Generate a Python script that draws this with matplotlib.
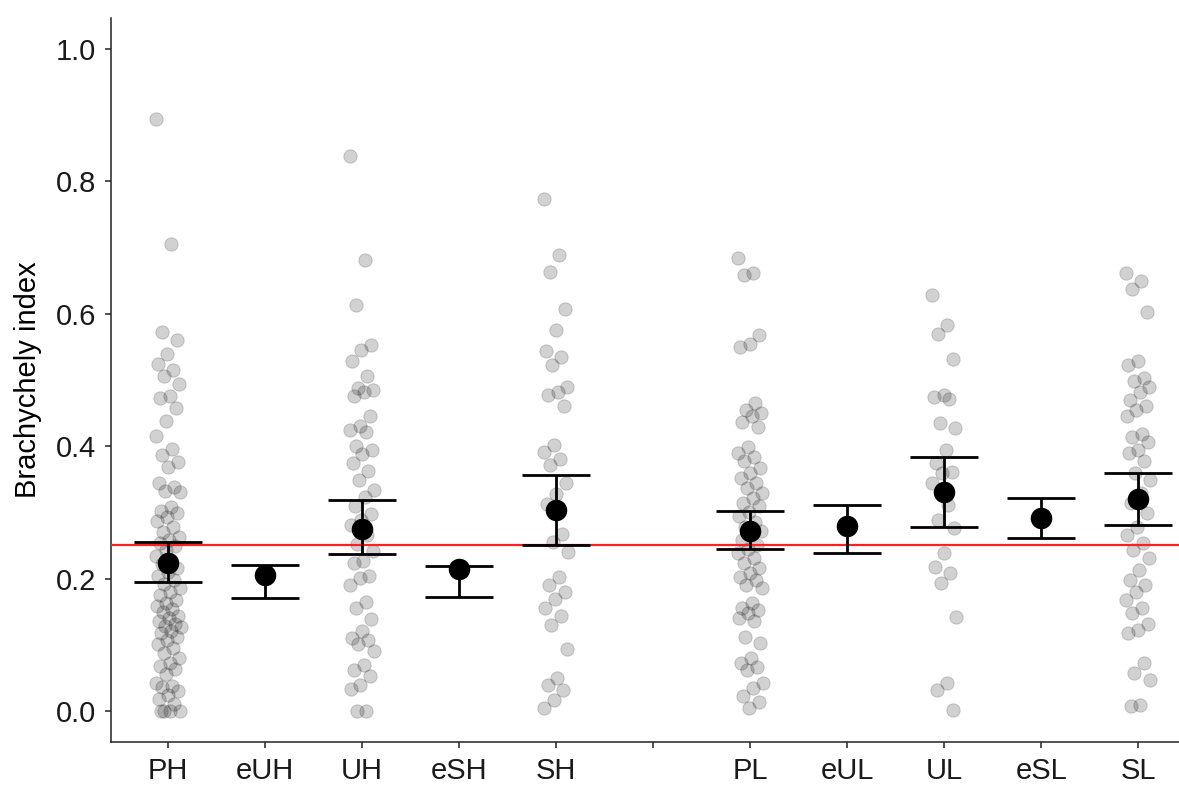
import matplotlib
matplotlib.use('Agg')
import matplotlib.pyplot as plt
import numpy as np

plt.rcParams['font.family'] = ['Liberation Sans', 'DejaVu Sans']

# x axis: ten groups plus one empty slot between the H and L blocks
CATEGORIES = ['PH', 'eUH', 'UH', 'eSH', 'SH', '', 'PL', 'eUL', 'UL', 'eSL', 'SL']
SUMMARY_GROUPS = ['PH', 'eUH', 'UH', 'eSH', 'SH', 'PL', 'eUL', 'UL', 'eSL', 'SL']
MEANS = [0.223, 0.205, 0.275, 0.215, 0.303, 0.272, 0.280, 0.330, 0.291, 0.320]
UPPER = [0.255, 0.220, 0.318, 0.219, 0.357, 0.302, 0.311, 0.383, 0.321, 0.359]
LOWER = [0.194, 0.171, 0.237, 0.172, 0.251, 0.245, 0.238, 0.278, 0.261, 0.281]
REFERENCE = 0.25

# observed values (only the non-"e" groups have raw points)
PH = [0.895, 0.705, 0.572, 0.560, 0.539, 0.524, 0.515, 0.506, 0.494, 0.476,
      0.473, 0.458, 0.438, 0.415, 0.396, 0.387, 0.376, 0.369, 0.344, 0.338,
      0.332, 0.330, 0.308, 0.302, 0.299, 0.293, 0.287, 0.278, 0.270, 0.263,
      0.258, 0.254, 0.249, 0.243, 0.234, 0.228, 0.222, 0.216, 0.210, 0.204,
      0.198, 0.192, 0.186, 0.180, 0.175, 0.168, 0.163, 0.159, 0.154, 0.150,
      0.144, 0.140, 0.136, 0.132, 0.128, 0.126, 0.120, 0.117, 0.112, 0.107,
      0.101, 0.095, 0.088, 0.080, 0.072, 0.068, 0.063, 0.055, 0.042, 0.038,
      0.036, 0.030, 0.024, 0.018, 0.010, 0.0, 0.0, 0.0, 0.0]
UH = [0.839, 0.682, 0.613, 0.553, 0.545, 0.528, 0.506, 0.488, 0.485, 0.482,
      0.476, 0.445, 0.431, 0.425, 0.421, 0.400, 0.394, 0.388, 0.374, 0.362,
      0.349, 0.334, 0.323, 0.309, 0.298, 0.289, 0.281, 0.266, 0.252, 0.241,
      0.227, 0.224, 0.204, 0.201, 0.190, 0.164, 0.156, 0.139, 0.121, 0.110,
      0.107, 0.101, 0.090, 0.070, 0.062, 0.053, 0.039, 0.033, 0.0, 0.0]
SH = [0.773, 0.689, 0.663, 0.607, 0.576, 0.544, 0.534, 0.523, 0.489, 0.482,
      0.477, 0.461, 0.401, 0.391, 0.380, 0.372, 0.344, 0.328, 0.313, 0.268,
      0.255, 0.240, 0.203, 0.190, 0.180, 0.169, 0.156, 0.143, 0.130, 0.094,
      0.050, 0.039, 0.032, 0.016, 0.005]
PL = [0.684, 0.661, 0.658, 0.568, 0.555, 0.550, 0.465, 0.455, 0.450, 0.446,
      0.437, 0.429, 0.399, 0.389, 0.384, 0.377, 0.367, 0.359, 0.352, 0.344,
      0.337, 0.329, 0.321, 0.314, 0.309, 0.300, 0.294, 0.286, 0.278, 0.272,
      0.266, 0.258, 0.250, 0.244, 0.238, 0.231, 0.223, 0.216, 0.208, 0.203,
      0.198, 0.190, 0.185, 0.163, 0.155, 0.152, 0.148, 0.140, 0.136, 0.112,
      0.102, 0.080, 0.072, 0.066, 0.062, 0.042, 0.034, 0.022, 0.014, 0.004]
UL = [0.628, 0.583, 0.570, 0.531, 0.477, 0.475, 0.472, 0.435, 0.427, 0.394,
      0.374, 0.361, 0.359, 0.344, 0.311, 0.289, 0.276, 0.238, 0.218, 0.208,
      0.193, 0.142, 0.042, 0.032, 0.002]
SL = [0.662, 0.650, 0.638, 0.603, 0.528, 0.523, 0.503, 0.498, 0.490, 0.482,
      0.470, 0.460, 0.455, 0.445, 0.419, 0.414, 0.407, 0.394, 0.389, 0.377,
      0.359, 0.349, 0.329, 0.314, 0.299, 0.278, 0.266, 0.253, 0.243, 0.231,
      0.213, 0.198, 0.190, 0.180, 0.168, 0.155, 0.148, 0.132, 0.122, 0.117,
      0.072, 0.057, 0.047, 0.009, 0.008]
RAW = {'PH': PH, 'UH': UH, 'SH': SH, 'PL': PL, 'UL': UL, 'SL': SL}

JITTER = 0.13

fig = plt.figure(figsize=(11.79, 7.89), dpi=100)
ax = fig.add_axes([0.0941, 0.0596, 0.9059, 0.9176])

pos = {c: i + 1 for i, c in enumerate(CATEGORIES) if c}

# jittered raw points, deterministic spread around each category centre
for name, vals in RAW.items():
    vals = np.asarray(vals)
    k = np.arange(len(vals))
    offs = ((k * 0.6180339887) % 1.0 - 0.5) * 2 * JITTER
    ax.scatter(pos[name] + offs, vals, s=92, facecolor=(0, 0, 0, 0.18),
               edgecolor=(0, 0, 0, 0.18), linewidth=0.7, zorder=2)

ax.axhline(REFERENCE, color='#ff2020', lw=1.6, zorder=3)

xs = [pos[g] for g in SUMMARY_GROUPS]
means = np.array(MEANS)
yerr = [means - np.array(LOWER), np.array(UPPER) - means]
ax.errorbar(xs, means, yerr=yerr, fmt='o', color='black', ms=14.5,
            elinewidth=2.0, capsize=24.5, capthick=2.0, zorder=4)

ax.set_xlim(0.41, 11.42)
ax.set_ylim(-0.047, 1.047)
ax.set_xticks(range(1, len(CATEGORIES) + 1))
ax.set_xticklabels(CATEGORIES)
ax.set_yticks([0.0, 0.2, 0.4, 0.6, 0.8, 1.0])
ax.set_yticklabels(['0.0', '0.2', '0.4', '0.6', '0.8', '1.0'])
ax.set_ylabel('Brachychely index', fontsize=21, labelpad=10, color='black')

for side in ['top', 'right']:
    ax.spines[side].set_visible(False)
for side in ['left', 'bottom']:
    ax.spines[side].set_color('#222222')
    ax.spines[side].set_linewidth(1.1)
ax.tick_params(axis='both', length=4.5, width=1.1, color='#222222',
               labelsize=21, labelcolor='#1a1a1a', pad=6)

fig.savefig('out.png', dpi=100)
